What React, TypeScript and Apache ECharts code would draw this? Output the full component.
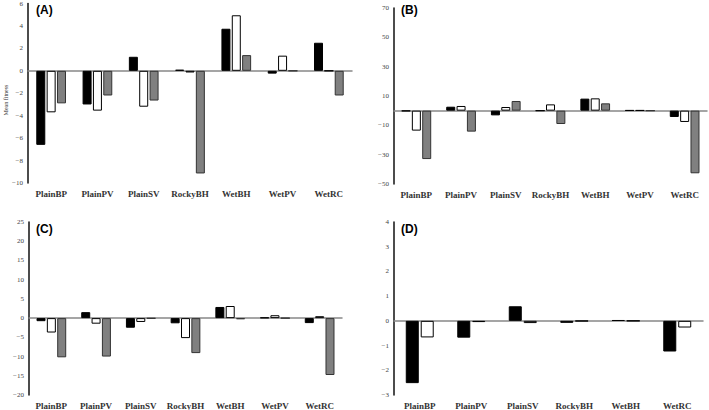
import React, { useEffect, useRef } from "react";
import * as echarts from "echarts";

const categories7 = ["PlainBP", "PlainPV", "PlainSV", "RockyBH", "WetBH", "WetPV", "WetRC"];
const categoriesD = ["PlainBP", "PlainPV", "PlainSV", "RockyBH", "WetBH", "WetRC"];

const aBlack = [-6.6, -3.0, 1.25, 0.1, 3.75, -0.25, 2.5];
const aWhite = [-3.7, -3.55, -3.2, -0.15, 4.95, 1.35, 0];
const aGray = [-2.9, -2.2, -2.65, -9.15, 1.4, 0, -2.2];

const bBlack = [-0.3, 2.7, -3.2, 0, 8.2, 0.3, -4.3];
const bWhite = [-13.6, 3.2, 2.5, 4.3, 8.4, 0.3, -7.7];
const bGray = [-33, -14.3, 6.6, -9.1, 5, 0, -42.7];

const cBlack = [-0.8, 1.55, -2.5, -1.35, 2.9, 0.15, -1.3];
const cWhite = [-3.75, -1.45, -1.0, -5.2, 3.15, 0.75, 0.5];
const cGray = [-10.2, -10, -0.1, -9.1, -0.3, 0, -14.8];

const dBlack = [-2.52, -0.68, 0.59, -0.08, 0.03, -1.24];
const dWhite = [-0.67, -0.05, -0.09, -0.01, 0, -0.27];

const panelLetters = ["(A)", "(B)", "(C)", "(D)"];

export default function App() {
  const ref = useRef<HTMLDivElement>(null);
  useEffect(() => {
    if (!ref.current) return;
    const chart = echarts.init(ref.current, null, { renderer: "svg" });
    const grids = [
      { left: 28, right: 357, top: 3, bottom: 227 },
      { left: 394, right: 2, top: 8, bottom: 226 },
      { left: 29, right: 367, top: 222, bottom: 12 },
      { left: 394, right: 6, top: 222, bottom: 13 },
    ];
    const yRanges = [
      { min: -10, max: 6, interval: 2 },
      { min: -50, max: 70, interval: 20 },
      { min: -20, max: 25, interval: 5 },
      { min: -3, max: 4, interval: 1 },
    ];
    const cats = [categories7, categories7, categories7, categoriesD];
    const labelAxes = cats.map((c, i) => ({
      type: "category",
      gridIndex: i,
      data: c,
      position: "bottom",
      axisLine: { show: false, onZero: false },
      axisTick: { show: false },
      axisLabel: {
        interval: 0,
        margin: 6,
        fontFamily: "Liberation Serif",
        fontWeight: "bold",
        fontSize: 9,
        color: "#333",
      },
    }));
    const zeroAxes = cats.map((c, i) => ({
      type: "category",
      gridIndex: i,
      data: c,
      position: "bottom",
      axisLine: { show: true, onZero: true, onZeroAxisIndex: i, lineStyle: { color: "#888", width: 1.5 } },
      axisTick: { show: false },
      axisLabel: { show: false },
    }));
    const xAxis = [...labelAxes, ...zeroAxes];
    const yAxis = yRanges.map((r, i) => ({
      type: "value",
      gridIndex: i,
      min: r.min,
      max: r.max,
      interval: r.interval,
      splitLine: { show: false },
      axisLine: { show: true, lineStyle: { color: "#111", width: 1.5 } },
      axisTick: { show: false },
      axisLabel: {
        margin: 5,
        fontFamily: "Liberation Serif",
        fontSize: 7,
        color: "#444",
        formatter: (v: number) => (v < 0 ? "\u2212" + Math.abs(v) : String(v)),
      },
    }));
    const mk = (data: number[], i: number, kind: string, bw: number) => {
      const style =
        kind === "black"
          ? { color: "#000", borderColor: "#000", borderWidth: 1 }
          : kind === "white"
          ? { color: "#fff", borderColor: "#000", borderWidth: 1 }
          : { color: "#808080", borderColor: "#333", borderWidth: 1 };
      return {
        type: "bar",
        xAxisIndex: i,
        yAxisIndex: i,
        data,
        barWidth: bw,
        barGap: "15%",
        itemStyle: style,
      };
    };
    const series = [
      mk(aBlack, 0, "black", 9),
      mk(aWhite, 0, "white", 9),
      mk(aGray, 0, "gray", 9),
      mk(bBlack, 1, "black", 9),
      mk(bWhite, 1, "white", 9),
      mk(bGray, 1, "gray", 9),
      mk(cBlack, 2, "black", 9),
      mk(cWhite, 2, "white", 9),
      mk(cGray, 2, "gray", 9),
      mk(dBlack, 3, "black", 13),
      mk(dWhite, 3, "white", 13),
    ];
    const letterPos = [
      [36, 4],
      [401, 4],
      [36, 223],
      [401, 223],
    ];
    const graphic: any[] = panelLetters.map((t, i) => ({
      type: "text",
      x: letterPos[i][0],
      y: letterPos[i][1],
      style: {
        text: t,
        fontFamily: "Liberation Sans",
        fontWeight: "bold",
        fontSize: 12,
        fill: "#000",
      },
    }));
    graphic.push({
      type: "text",
      x: 6,
      y: 100,
      rotation: Math.PI / 2,
      style: {
        text: "Mean fitness",
        fontFamily: "Liberation Serif",
        fontSize: 6,
        fill: "#333",
        align: "center",
        verticalAlign: "middle",
      },
    });
    chart.setOption({
      animation: false,
      backgroundColor: "#fff",
      grid: grids,
      xAxis,
      yAxis,
      series,
      graphic,
    });
    return () => chart.dispose();
  }, []);
  return <div ref={ref} style={{ width: 709, height: 410, position: "absolute", left: 0, top: 0 }} />;
}
